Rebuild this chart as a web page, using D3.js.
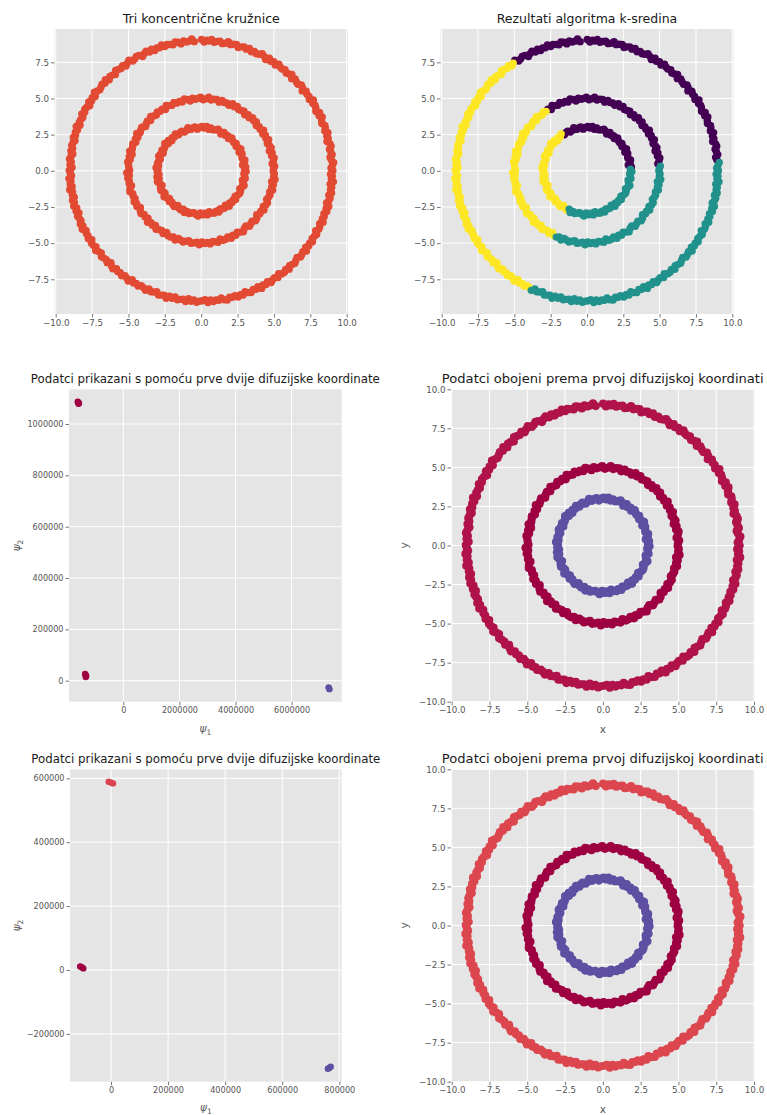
<!DOCTYPE html>
<html><head><meta charset="utf-8">
<script src="https://cdn.jsdelivr.net/npm/d3@7"></script>
<style>
html,body{margin:0;padding:0;background:#fff;}
svg{display:block;font-family:"DejaVu Sans",sans-serif;}
</style></head>
<body>
<svg id="chart" width="767" height="1115"></svg>
<script>
// ---- DATA: ring points read as polar readings (angle in degrees, radius) ----
const outerAngles = [0,1.2,2.3,3.6,4.9,6.0,7.1,8.4,9.6,10.8,12.0,13.2,14.3,15.5,16.8,18.0,19.2,20.3,21.5,22.8,24.1,25.2,26.4,27.6,28.9,30.0,31.2,32.4,33.6,34.8,36.1,37.3,38.5,39.6,40.8,42.0,43.3,44.5,45.7,46.9,48.0,49.2,50.5,51.7,52.9,54.1,55.2,56.5,57.8,58.9,60.1,61.3,62.6,63.7,64.9,66.1,67.3,68.6,69.8,71.0,72.2,73.4,74.5,75.8,77.0,78.2,79.4,80.6,81.8,83.0,84.3,85.5,86.6,87.6,88.7,89.9,93.0,94.1,95.3,96.5,97.7,99.0,100.2,101.4,102.5,103.8,105.0,106.2,107.4,108.6,109.8,111.0,112.1,113.4,114.6,115.8,117.0,118.2,119.4,120.6,121.8,123.0,124.3,125.5,126.6,127.9,129.1,130.3,131.5,132.7,133.9,135.1,136.3,137.5,138.7,140.0,141.2,142.3,143.5,144.8,146.0,147.2,148.4,149.6,150.8,152.0,153.2,154.4,155.6,156.8,158.1,159.3,160.4,161.6,162.9,164.1,165.3,166.5,167.6,168.9,170.1,171.3,172.5,173.7,174.9,176.1,177.3,178.5,179.8,181.0,182.2,183.4,184.5,185.8,187.0,188.2,189.4,190.6,191.8,193.0,194.2,195.5,196.7,197.9,199.1,200.3,201.5,202.7,203.9,205.1,206.3,207.5,208.8,210.0,211.2,212.4,213.6,214.8,216.0,217.2,218.4,219.6,220.9,222.1,223.3,224.5,225.7,226.9,228.1,229.3,230.5,231.7,233.0,234.2,235.4,236.6,237.8,239.0,240.2,241.4,242.6,243.8,245.1,246.3,247.5,248.7,249.9,251.1,252.3,253.5,254.7,255.9,257.2,258.4,259.6,260.8,262.0,263.2,264.4,265.6,266.8,268.0,269.3,270.5,271.7,272.9,274.1,275.3,276.5,277.7,278.9,280.1,281.4,282.6,283.8,285.0,286.2,287.4,288.6,289.8,291.0,292.2,293.5,294.7,295.9,297.1,298.3,299.5,300.7,301.9,303.1,304.3,305.6,306.8,308.0,309.2,310.4,311.6,312.8,314.0,315.2,316.4,317.7,318.9,320.1,321.3,322.5,323.7,324.9,326.1,327.3,328.5,329.8,331.0,332.2,333.4,334.6,335.8,337.0,338.2,339.4,340.6,341.9,343.1,344.3,345.5,346.7,347.9,349.1,350.3,351.5,352.7,354.0,355.2,356.4,357.6,358.5];
const outerRadii = [9.05,8.92,9.02,9.12,8.97,8.90,9.07,9.00,8.94,9.09,9.04,8.88,9.01,8.96,9.10,8.93,9.03,9.06,8.91,8.98,9.11,8.95,9.08,8.89,9.00,9.04,8.97,9.13,8.92,9.02,
8.99,9.07,8.87,9.03,9.09,8.94,8.98,9.05,8.90,9.12,9.01,8.93,9.06,8.97,9.00,9.10,8.91,9.04,8.95,9.08,8.88,9.02,9.11,8.99,8.94,9.03,8.92,9.09,8.96,9.06,
9.00,8.89,9.07,9.02,8.95,9.12,8.97,8.91,9.05,9.01,8.93,9.10,8.98,9.04,8.90,9.08,8.94,9.13,9.00,8.96,9.06,8.88,9.03,9.09,8.92,8.99,9.05,8.95,9.11,8.97,
9.02,8.91,9.07,8.94,9.10,9.00,8.87,9.04,9.08,8.98,8.93,9.12,9.01,8.90,9.06,8.96,9.03,9.09,8.89,9.00,9.05,8.92,9.11,8.97,9.07,8.99,8.94,9.02,9.13,8.91,
9.04,8.95,9.08,8.88,9.01,9.06,8.97,9.10,8.93,9.00,9.03,8.90,9.12,8.96,9.05,8.98,9.09,8.92,9.02,9.07,
8.97,9.06,8.90,9.01,9.09,8.95,9.03,8.88,9.07,9.00,8.92,9.11,8.98,9.05,8.94,9.13,8.96,9.02,8.91,9.08,8.99,9.10,8.93,9.04,8.89,9.06,9.00,8.95,9.09,8.97,
9.12,8.92,9.01,8.98,9.07,8.90,9.05,9.03,8.94,9.11,8.99,8.91,9.08,9.00,8.96,9.06,8.88,9.02,9.10,8.93,9.03,8.97,9.09,8.95,9.01,9.12,8.90,9.04,8.98,9.07,
8.94,9.00,9.11,8.92,9.05,8.99,8.89,9.08,9.02,8.96,9.13,8.93,9.03,8.91,9.06,9.00,8.97,9.10,8.88,9.04,8.94,9.09,9.01,8.98,8.92,9.12,8.95,9.07,8.99,9.03,
8.90,9.05,9.11,8.96,9.00,8.93,9.08,8.98,9.06,8.89,9.02,9.09,8.95,9.01,8.91,9.13,8.97,9.04,8.92,9.10,8.99,8.94,9.07,8.88,9.03,9.05,8.96,9.11,8.93,9.00,
9.08,8.98,8.90,9.06,9.01,8.95,9.12,8.91,9.03,8.97,9.09,8.94,9.00,9.07,8.89,9.04,9.02,8.92,9.10,8.96,
9.03,8.94,9.08,8.97,9.11,8.90,9.01,9.06,8.93,9.09,8.98,9.04,8.91,9.12,8.96,9.02,8.89,9.07,9.00,8.95,9.10,8.92,9.05,8.99,9.13,8.94,9.01,9.08,8.97,9.03];
const middleAngles = [1.5,3.6,5.8,7.9,10.0,12.0,14.1,16.3,18.4,20.5,22.6,24.8,26.9,29.0,31.1,33.2,35.3,37.5,39.6,41.7,43.8,46.0,48.1,50.2,52.3,54.4,56.5,58.7,60.8,62.9,65.0,67.2,69.3,71.4,73.5,75.6,77.7,79.9,82.0,84.1,86.2,88.4,90.5,92.6,94.7,96.8,98.9,101.1,103.2,105.3,107.4,109.5,111.6,113.8,115.9,118.0,120.1,122.3,124.4,126.5,128.6,130.7,132.8,135.0,137.1,139.2,141.3,143.5,145.6,147.7,149.8,151.9,154.0,156.2,158.3,160.4,162.5,164.6,166.7,168.9,171.0,173.1,175.2,177.4,179.5,181.6,183.7,185.8,187.9,190.1,192.2,194.3,196.4,198.6,200.7,202.8,204.9,207.0,209.1,211.3,213.4,215.5,217.6,219.7,221.8,224.0,226.1,228.2,230.3,232.5,234.6,236.7,238.8,240.9,243.0,245.2,247.3,249.4,251.5,253.7,255.8,257.9,260.0,262.1,264.2,266.4,268.5,270.6,272.7,274.8,276.9,279.1,281.2,283.3,285.4,287.6,289.7,291.8,293.9,296.0,298.1,300.3,302.4,304.5,306.6,308.8,310.9,313.0,315.1,317.2,319.3,321.5,323.6,325.7,327.8,329.9,332.0,334.2,336.3,338.4,340.5,342.7,344.8,346.9,349.0,351.1,353.2,355.4,357.5,359.6];
const middleRadii = [4.97,5.06,4.90,5.01,5.09,4.95,5.03,4.88,5.07,5.00,4.92,5.11,4.98,5.05,4.94,5.13,4.96,5.02,4.91,5.08,4.99,5.10,4.93,5.04,4.89,5.06,5.00,4.95,5.09,4.97,
5.12,4.92,5.01,4.98,5.07,4.90,5.05,5.03,4.94,5.11,4.99,4.91,5.08,5.00,4.96,5.06,4.88,5.02,5.10,4.93,5.03,4.97,5.09,4.95,5.01,5.12,4.90,5.04,4.98,5.07,
4.94,5.00,5.11,4.92,5.05,4.99,4.89,5.08,5.02,4.96,5.13,4.93,5.03,4.91,5.06,5.00,4.97,5.10,4.88,5.04,4.94,5.09,5.01,4.98,4.92,5.12,4.95,5.07,4.99,5.03,
4.90,5.05,5.11,4.96,5.00,4.93,5.08,4.98,5.06,4.89,5.02,5.09,4.95,5.01,4.91,5.13,4.97,5.04,4.92,5.10,4.99,4.94,5.07,4.88,5.03,5.05,4.96,5.11,4.93,5.00,
5.08,4.98,4.90,5.06,5.01,4.95,5.12,4.91,5.03,4.97,5.09,4.94,5.00,5.07,4.89,5.04,5.02,4.92,5.10,4.96,
5.05,4.92,5.02,5.12,4.97,4.90,5.07,5.00,4.94,5.09,5.04,4.88,5.01,4.96,5.10,4.93,5.03,5.06,4.91,4.98,
5.02,4.93,5.09,4.97,5.05,4.90,5.11,4.99,5.03,4.95,5.08,4.92,5.06,5.00,4.94];
const innerAngles = [2.0,5.0,8.1,11.1,14.0,17.0,20.2,23.2,26.1,29.1,32.0,35.0,38.2,41.2,44.1,47.1,50.0,53.0,56.2,59.2,62.1,65.1,68.0,71.0,74.2,77.2,80.1,83.1,86.0,89.0,92.2,95.2,98.1,101.1,104.0,107.0,110.2,113.2,116.1,119.1,122.0,125.0,128.2,131.2,134.1,137.1,140.0,143.0,146.2,149.2,152.1,155.1,158.0,161.0,164.2,167.2,170.1,173.1,176.0,179.0,182.2,185.2,188.1,191.1,194.0,197.0,200.2,203.2,206.1,209.1,212.0,215.0,218.2,221.2,224.1,227.1,230.0,233.0,236.2,239.2,242.1,245.1,248.0,251.0,254.2,257.2,260.1,263.1,266.0,269.0,272.2,275.2,278.1,281.1,284.0,287.0,290.2,293.2,296.1,299.1,302.0,305.0,308.2,311.2,314.1,317.1,320.0,323.0,326.2,329.2,332.1,335.1,338.0,341.0,344.2,347.2,350.1,353.1,356.0,359.0];
const innerRadii = [2.99,3.07,2.87,3.03,3.09,2.94,2.98,3.05,2.90,3.12,3.01,2.93,3.06,2.97,3.00,3.10,2.91,3.04,2.95,3.08,2.88,3.02,3.11,2.99,2.94,3.03,2.92,3.09,2.96,3.06,
3.00,2.89,3.07,3.02,2.95,3.12,2.97,2.91,3.05,3.01,2.93,3.10,2.98,3.04,2.90,3.08,2.94,3.13,3.00,2.96,3.06,2.88,3.03,3.09,2.92,2.99,3.05,2.95,3.11,2.97,
3.02,2.91,3.07,2.94,3.10,3.00,2.87,3.04,3.08,2.98,2.93,3.12,3.01,2.90,3.06,2.96,3.03,3.09,2.89,3.00,3.05,2.92,3.11,2.97,3.07,2.99,2.94,3.02,3.13,2.91,
3.04,2.95,3.08,2.88,3.01,3.06,2.97,3.10,2.93,3.00,3.03,2.90,3.12,2.96,3.05,2.98,3.09,2.92,3.02,3.07,3.05,2.92,3.02,3.12,2.97,2.90,3.07,3.00,2.94,3.09,
3.01,2.95,3.08,2.92,3.04,2.98,3.10,2.93,3.06,3.00];

// k-means centroids (purple, yellow, teal)
const kCentroids = [[1.92,4.07],[-4.49,-0.29],[2.58,-3.69]];
const kColors = ["#440154","#fde725","#21918c"];

// diffusion coordinates, first run
const diffA_red = [[-1604000,1084000],[-1580000,1081000],[-1625000,1087000],[-1598000,1079000]];
const diffA_red2 = [[-1341000,22000],[-1320000,18000],[-1360000,26000],[-1338000,14000]];
const diffA_blue = [[7333000,-29600],[7350000,-33000],[7318000,-26000]];
// diffusion coordinates, second run
const diffB_light = [[0,586600],[-8000,589000],[7000,584000]];
const diffB_dark = [[-102600,8400],[-108000,11000],[-97000,5000]];
const diffB_blue = [[764700,-306700],[770000,-303000],[760000,-309000]];

const ringTicks = [-10,-7.5,-5,-2.5,0,2.5,5,7.5,10];
const ringYTicksTop = [-7.5,-5,-2.5,0,2.5,5,7.5];
const diffAXTicks = [0,2000000,4000000,6000000];
const diffAYTicks = [0,200000,400000,600000,800000,1000000];
const diffBXTicks = [0,200000,400000,600000,800000];
const diffBYTicks = [-200000,0,200000,400000,600000];

const titles = ["Tri koncentrične kružnice","Rezultati algoritma k-sredina",
  "Podatci prikazani s pomoću prve dvije difuzijske koordinate","Podatci obojeni prema prvoj difuzijskoj koordinati"];

// ---- DRAWING ----
const svg = d3.select("#chart");
const toXY = (angles, radii) => d3.zip(angles, radii).map(([a,r]) => [r*Math.cos(a*Math.PI/180), r*Math.sin(a*Math.PI/180)]);
const outerXY = toXY(outerAngles, outerRadii);
const middleXY = toXY(middleAngles, middleRadii);
const innerXY = toXY(innerAngles, innerRadii);
const minus = s => s.replace(/-/g,"\u2212");
const fmt1 = d => minus(d3.format(".1f")(d));
const fmt0 = d => minus(String(d));

function panel(o){
  const g = svg.append("g");
  const x = d3.scaleLinear().domain(o.xd).range(o.xr);
  const y = d3.scaleLinear().domain(o.yd).range(o.yr);
  g.append("rect").attr("x",o.rect[0]).attr("y",o.rect[1])
    .attr("width",o.rect[2]-o.rect[0]).attr("height",o.rect[3]-o.rect[1]).attr("fill","#e5e5e5");
  const gr = g.append("g").attr("stroke","#fff").attr("stroke-width",1);
  o.xt.forEach(t=>gr.append("line").attr("x1",x(t)).attr("x2",x(t)).attr("y1",o.rect[1]).attr("y2",o.rect[3]));
  o.yt.forEach(t=>gr.append("line").attr("y1",y(t)).attr("y2",y(t)).attr("x1",o.rect[0]).attr("x2",o.rect[2]));
  const pts = g.append("g");
  o.layers.forEach(L=>{
    pts.selectAll(null).data(L.data).enter().append("circle")
      .attr("cx",d=>x(d[0])).attr("cy",d=>y(d[1])).attr("r",L.r)
      .attr("fill",L.color);
  });
  const ax = g.append("g").attr("transform",`translate(0,${o.rect[3]})`)
    .call(d3.axisBottom(x).tickValues(o.xt).tickFormat(o.fmt).tickSize(3.5).tickPadding(2));
  const ay = g.append("g").attr("transform",`translate(${o.rect[0]},0)`)
    .call(d3.axisLeft(y).tickValues(o.yt).tickFormat(o.fmt).tickSize(3.5).tickPadding(2));
  [ax,ay].forEach(a=>{
    a.select(".domain").remove();
    a.selectAll("line").attr("stroke","#555").attr("stroke-width",0.8);
    a.selectAll("text").attr("fill","#555").style("font-size",o.tickFs+"px").style("font-family","DejaVu Sans");
  });
  g.append("text").attr("x",(o.rect[0]+o.rect[2])/2).attr("y",o.rect[1]-6.5)
    .attr("text-anchor","middle").style("font-size",o.titleFs+"px").attr("fill","#1a1a1a").text(o.title);
  if(o.xl){
    const t = g.append("text").attr("x",(o.rect[0]+o.rect[2])/2).attr("y",o.xlY)
      .attr("text-anchor","middle").style("font-size","10.5px").attr("fill","#555");
    if(o.psi){ t.append("tspan").style("font-style","italic").text("ψ"); t.append("tspan").attr("dy",2.5).style("font-size","7.5px").text("1"); }
    else t.text(o.xl);
  }
  if(o.yl){
    const cy=(o.rect[1]+o.rect[3])/2;
    const t = g.append("text").attr("transform",`translate(${o.ylX},${cy}) rotate(-90)`)
      .attr("text-anchor","middle").style("font-size","10.5px").attr("fill","#555");
    if(o.psi){ t.append("tspan").style("font-style","italic").text("ψ"); t.append("tspan").attr("dy",2.5).style("font-size","7.5px").text("2"); }
    else t.text(o.yl);
  }
}

const allRing = outerXY.concat(middleXY, innerXY);
const nearest = p => d3.minIndex(kCentroids, c => (p[0]-c[0])**2 + (p[1]-c[1])**2);

// Panel 1
panel({xd:[-10,10], xr:[55.7,346.7], yd:[-7.5,7.5], yr:[279.3,62.3], rect:[54.5,29,348,314],
  xt:ringTicks, yt:ringYTicksTop, fmt:fmt1, title:titles[0], titleFs:12.6, tickFs:8.7,
  layers:[{data:allRing, r:3.7, color:"#e24a33"}]});
// Panel 2
panel({xd:[-10,10], xr:[441.7,732.3], yd:[-7.5,7.5], yr:[279.3,62.3], rect:[440.5,29,733.5,314],
  xt:ringTicks, yt:ringYTicksTop, fmt:fmt1, title:titles[1], titleFs:12.5, tickFs:8.7,
  layers:[0,1,2].map(k=>({data:allRing.filter(p=>nearest(p)===k), r:3.7, color:kColors[k]}))});
// Panel 3
panel({xd:[0,2000000], xr:[123.3,179.4], yd:[0,1000000], yr:[680.7,424], rect:[69,389.3,341.7,701.7],
  xt:diffAXTicks, yt:diffAYTicks, fmt:fmt0, title:titles[2], titleFs:11.8, tickFs:8.1, psi:true, xl:"ψ1", xlY:732, yl:"ψ2", ylX:20,
  layers:[{data:diffA_red,r:3.2,color:"#9e0142"},{data:diffA_red2,r:3.2,color:"#9e0142"},{data:diffA_blue,r:3.2,color:"#5e4fa2"}]});
// Panel 4
panel({xd:[-10,10], xr:[451.7,754], yd:[-10,10], yr:[701.7,389.3], rect:[451,389.3,754.5,701.7],
  xt:ringTicks, yt:ringTicks, fmt:fmt1, title:titles[3], titleFs:13.1, tickFs:8.7, xl:"x", xlY:733, yl:"y", ylX:408,
  layers:[{data:outerXY,r:4.1,color:"#b0134a"},{data:middleXY,r:4.1,color:"#9e0142"},{data:innerXY,r:4.1,color:"#5e4fa2"}]});
// Panel 5
panel({xd:[0,800000], xr:[111,339.3], yd:[0,600000], yr:[970,778.3], rect:[70,769.3,341.7,1081.7],
  xt:diffBXTicks, yt:diffBYTicks, fmt:fmt0, title:titles[2], titleFs:11.8, tickFs:8.1, psi:true, xl:"ψ1", xlY:1111, yl:"ψ2", ylX:20,
  layers:[{data:diffB_light,r:3.2,color:"#d8434e"},{data:diffB_dark,r:3.2,color:"#9e0142"},{data:diffB_blue,r:3.2,color:"#5e4fa2"}]});
// Panel 6
panel({xd:[-10,10], xr:[451.7,754], yd:[-10,10], yr:[1081.7,769.3], rect:[451,769.3,754.5,1081.7],
  xt:ringTicks, yt:ringTicks, fmt:fmt1, title:titles[3], titleFs:13.1, tickFs:8.7, xl:"x", xlY:1113, yl:"y", ylX:408,
  layers:[{data:outerXY,r:4.1,color:"#dc464e"},{data:middleXY,r:4.1,color:"#9e0142"},{data:innerXY,r:4.1,color:"#5e4fa2"}]});
</script>
</body></html>
